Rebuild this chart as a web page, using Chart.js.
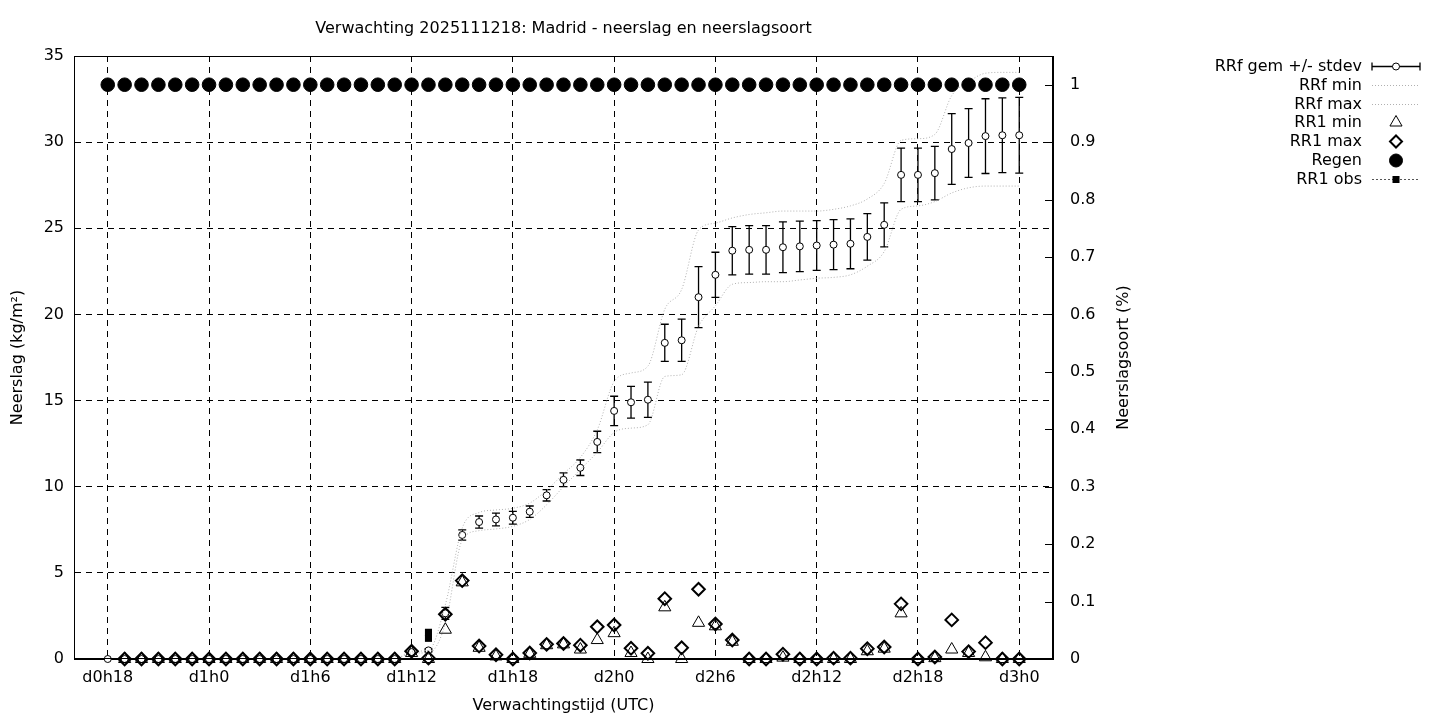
<!DOCTYPE html>
<html lang="nl">
<head>
<meta charset="utf-8">
<title>Verwachting 2025111218: Madrid - neerslag en neerslagsoort</title>
<script src="https://cdn.jsdelivr.net/npm/chart.js@4.4.1/dist/chart.umd.min.js"></script>
<style>
  html, body { margin: 0; padding: 0; background: #fff; }
  #wrap { width: 1440px; height: 720px; }
</style>
</head>
<body>
<div id="wrap"><canvas id="grafiek" width="1440" height="720"></canvas></div>
<script>
// Verwachtingsuren (d0h18 .. d3h0)
const uren = [18, 19, 20, 21, 22, 23, 24, 25, 26, 27, 28, 29, 30, 31, 32, 33, 34, 35,
  36, 37, 38, 39, 40, 41, 42, 43, 44, 45, 46, 47, 48, 49, 50, 51, 52, 53, 54,
  55, 56, 57, 58, 59, 60, 61, 62, 63, 64, 65, 66, 67, 68, 69, 70, 71, 72];

const xTickUren = [18, 24, 30, 36, 42, 48, 54, 60, 66, 72];
const xTickLabels = ['d0h18', 'd1h0', 'd1h6', 'd1h12', 'd1h18', 'd2h0', 'd2h6', 'd2h12', 'd2h18', 'd3h0'];
const rechtsTicks = [0, 0.1, 0.2, 0.3, 0.4, 0.5, 0.6, 0.7, 0.8, 0.9, 1];
const rechtsLabels = ['0', '0.1', '0.2', '0.3', '0.4', '0.5', '0.6', '0.7', '0.8', '0.9', '1'];

// Cumulatieve neerslag (kg/m2)
const rrfGem = [0, 0, 0, 0, 0, 0, 0, 0, 0, 0, 0, 0, 0, 0, 0, 0, 0, 0,
  0.4, 0.5, 2.65, 7.2, 7.95, 8.1, 8.2, 8.55, 9.5, 10.4, 11.1, 12.6, 14.4, 14.9, 15.05, 18.35, 18.5, 21.0, 22.3,
  23.7, 23.75, 23.75, 23.9, 23.95, 24.0, 24.05, 24.1, 24.5, 25.2, 28.1, 28.1, 28.2, 29.6, 29.95, 30.35, 30.4, 30.4];
const rrfStdev = [0, 0, 0, 0, 0, 0, 0, 0, 0, 0, 0, 0, 0, 0, 0, 0, 0, 0,
  0.05, 0.08, 0.35, 0.3, 0.35, 0.37, 0.37, 0.33, 0.33, 0.4, 0.45, 0.62, 0.85, 0.92, 1.02, 1.08, 1.23, 1.77, 1.31,
  1.4, 1.41, 1.41, 1.47, 1.47, 1.44, 1.45, 1.45, 1.35, 1.28, 1.55, 1.55, 1.55, 2.05, 2.0, 2.17, 2.17, 2.2];
const rrfMin = [0, 0, 0, 0, 0, 0, 0, 0, 0, 0, 0, 0, 0, 0, 0, 0, 0, 0,
  0.35, 0.35, 2.05, 6.9, 7.45, 7.55, 7.7, 8.1, 8.95, 10.0, 11.0, 12.0, 13.15, 13.4, 13.6, 16.4, 16.5, 19.3, 20.5,
  21.75, 21.85, 21.9, 21.9, 22.0, 22.1, 22.15, 22.3, 22.8, 23.65, 26.1, 26.3, 26.55, 27.05, 27.35, 27.45, 27.45, 27.45];
const rrfMax = [0, 0, 0, 0, 0, 0, 0, 0, 0, 0, 0, 0, 0, 0, 0, 0, 0, 0,
  0.45, 0.5, 3.15, 7.6, 8.5, 8.65, 8.75, 9.05, 9.8, 10.75, 11.7, 13.3, 16.1, 16.6, 17.0, 20.3, 21.45, 24.9, 25.3,
  25.6, 25.8, 25.9, 26.0, 26.0, 26.0, 26.1, 26.3, 26.7, 27.6, 30.1, 30.2, 30.45, 32.7, 33.5, 34.0, 34.05, 34.05];

// Uurlijkse neerslag (kg/m2)
const rr1Min = [null, 0, 0, 0, 0, 0, 0, 0, 0, 0, 0, 0, 0, 0, 0, 0, 0, 0,
  0.35, 0, 1.7, 4.45, 0.65, 0.15, 0, 0.3, 0.8, 0.85, 0.55, 1.1, 1.5, 0.35, 0, 3.0, 0, 2.1, 1.9,
  1.0, 0, 0, 0.08, 0, 0, 0, 0, 0.45, 0.6, 2.65, 0, 0.05, 0.55, 0.35, 0.1, 0, 0];
const rr1Max = [null, 0, 0, 0, 0, 0, 0, 0, 0, 0, 0, 0, 0, 0, 0, 0, 0, 0,
  0.45, 0.05, 2.6, 4.55, 0.75, 0.25, 0, 0.35, 0.85, 0.9, 0.8, 1.87, 1.97, 0.62, 0.33, 3.5, 0.65, 4.05, 2.03,
  1.1, 0, 0, 0.28, 0, 0, 0.05, 0.05, 0.6, 0.7, 3.2, 0, 0.12, 2.27, 0.43, 0.95, 0, 0];

// Neerslagsoort: fractie regen
const regen = [1, 1, 1, 1, 1, 1, 1, 1, 1, 1, 1, 1, 1, 1, 1, 1, 1, 1,
  1, 1, 1, 1, 1, 1, 1, 1, 1, 1, 1, 1, 1, 1, 1, 1, 1, 1, 1,
  1, 1, 1, 1, 1, 1, 1, 1, 1, 1, 1, 1, 1, 1, 1, 1, 1, 1];

// Waarnemingen
const obsUren = [37, 37];
const rr1Obs = [1.2, 1.55];

const FONT = "'DejaVu Sans', 'Liberation Sans', sans-serif";
const FS = 16;
Chart.defaults.font.family = FONT;
Chart.defaults.font.size = FS;
Chart.defaults.color = '#000';

const punten = (ys) => uren.map((u, i) => ({ x: u, y: ys[i] }));
const GRIJS = '#b0b0b0';

// Foutbalken onder de markers
const foutbalken = {
  id: 'foutbalken',
  beforeDatasetsDraw(chart) {
    const { ctx, scales: { x, y } } = chart;
    ctx.save();
    ctx.strokeStyle = '#000';
    ctx.lineWidth = 1.3;
    uren.forEach((u, i) => {
      const s = rrfStdev[i];
      if (!s) return;
      const px = x.getPixelForValue(u);
      const top = y.getPixelForValue(rrfGem[i] + s);
      const bot = y.getPixelForValue(rrfGem[i] - s);
      ctx.beginPath();
      ctx.moveTo(px, top); ctx.lineTo(px, bot);
      ctx.moveTo(px - 4, top); ctx.lineTo(px + 4, top);
      ctx.moveTo(px - 4, bot); ctx.lineTo(px + 4, bot);
      ctx.stroke();
    });
    ctx.restore();
  }
};

// Kader, rechtse tics, y2-label en legenda
const extra = {
  id: 'extra',
  afterDraw(chart) {
    const { ctx, chartArea: a, scales: { y1 } } = chart;
    const dp = Chart.helpers.drawPoint;
    ctx.save();
    ctx.strokeStyle = '#000';
    ctx.lineWidth = 1;
    ctx.setLineDash([]);
    ctx.strokeRect(a.left + 0.5, a.top + 0.5, a.right - a.left - 1, a.bottom - a.top - 1);
    ctx.beginPath();
    rechtsTicks.forEach(t => {
      const py = Math.round(y1.getPixelForValue(t)) + 0.5;
      ctx.moveTo(a.right - 8, py); ctx.lineTo(a.right, py);
    });
    ctx.stroke();

    ctx.fillStyle = '#000';
    ctx.font = FS + 'px ' + FONT;
    ctx.save();
    ctx.translate(1124, (a.top + a.bottom) / 2);
    ctx.rotate(-Math.PI / 2);
    ctx.textAlign = 'center';
    ctx.textBaseline = 'middle';
    ctx.fillText('Neerslagsoort (%)', 0, 0);
    ctx.restore();

    // legenda
    const rijen = ['RRf gem +/- stdev', 'RRf min', 'RRf max', 'RR1 min', 'RR1 max', 'Regen', 'RR1 obs'];
    const tx = 1362, x0 = 1372, x1 = 1420, xm = 1396;
    ctx.textAlign = 'right';
    ctx.textBaseline = 'middle';
    rijen.forEach((r, i) => {
      const ly = 66 + i * 18.75;
      ctx.fillStyle = '#000';
      ctx.fillText(r, tx, ly + 1);
      const yy = Math.round(ly) + 0.5;
      ctx.setLineDash([]);
      ctx.strokeStyle = '#000';
      if (i === 0) {
        ctx.lineWidth = 1.3;
        ctx.beginPath();
        ctx.moveTo(x0, yy); ctx.lineTo(x1, yy);
        ctx.moveTo(x0, yy - 4); ctx.lineTo(x0, yy + 4);
        ctx.moveTo(x1, yy - 4); ctx.lineTo(x1, yy + 4);
        ctx.stroke();
        ctx.fillStyle = '#fff'; ctx.lineWidth = 1;
        dp(ctx, { pointStyle: 'circle', radius: 3.5, borderWidth: 1, rotation: 0 }, xm, yy);
      } else if (i === 1 || i === 2) {
        ctx.strokeStyle = GRIJS; ctx.lineWidth = 1;
        ctx.setLineDash([1, 2]);
        ctx.beginPath(); ctx.moveTo(x0, yy); ctx.lineTo(x1, yy); ctx.stroke();
      } else if (i === 3) {
        ctx.fillStyle = 'rgba(0,0,0,0)'; ctx.lineWidth = 1;
        dp(ctx, { pointStyle: 'triangle', radius: 7, borderWidth: 1, rotation: 0 }, xm, yy);
      } else if (i === 4) {
        ctx.fillStyle = 'rgba(0,0,0,0)'; ctx.lineWidth = 2;
        dp(ctx, { pointStyle: 'rectRot', radius: 6, borderWidth: 2, rotation: 0 }, xm, yy);
      } else if (i === 5) {
        ctx.fillStyle = '#000'; ctx.lineWidth = 1;
        dp(ctx, { pointStyle: 'circle', radius: 6.5, borderWidth: 1, rotation: 0 }, xm, yy);
      } else {
        ctx.strokeStyle = '#555'; ctx.lineWidth = 1;
        ctx.setLineDash([2, 2]);
        ctx.beginPath(); ctx.moveTo(x0, yy); ctx.lineTo(x1, yy); ctx.stroke();
        ctx.setLineDash([]);
        ctx.fillStyle = '#000';
        ctx.fillRect(xm - 3.5, yy - 3.5, 7, 7);
      }
    });
    ctx.restore();
  }
};

new Chart(document.getElementById('grafiek'), {
  type: 'line',
  data: {
    datasets: [
      { label: 'RR1 obs', data: obsUren.map((u, i) => ({ x: u, y: rr1Obs[i] })), showLine: false, clip: false,
        pointStyle: 'rect', pointRadius: 5, backgroundColor: '#000', borderColor: '#000', borderWidth: 0 },
      { label: 'Regen', data: punten(regen), yAxisID: 'y1', showLine: false, clip: false,
        pointStyle: 'circle', pointRadius: 6.8, backgroundColor: '#000', borderColor: '#000', borderWidth: 1 },
      { label: 'RR1 max', data: punten(rr1Max), showLine: false, clip: false,
        pointStyle: 'rectRot', pointRadius: 6.3, backgroundColor: 'rgba(0,0,0,0)', borderColor: '#000', borderWidth: 2 },
      { label: 'RR1 min', data: punten(rr1Min), showLine: false, clip: false,
        pointStyle: 'triangle', pointRadius: 7, backgroundColor: 'rgba(0,0,0,0)', borderColor: '#000', borderWidth: 1 },
      { label: 'RRf max', data: punten(rrfMax), pointRadius: 0, borderColor: GRIJS, borderWidth: 1,
        borderDash: [1, 2], cubicInterpolationMode: 'monotone', fill: false },
      { label: 'RRf min', data: punten(rrfMin), pointRadius: 0, borderColor: GRIJS, borderWidth: 1,
        borderDash: [1, 2], cubicInterpolationMode: 'monotone', fill: false },
      { label: 'RRf gem +/- stdev', data: punten(rrfGem), showLine: false, clip: false,
        pointStyle: 'circle', pointRadius: 3.5, backgroundColor: '#fff', borderColor: '#000', borderWidth: 1 }
    ]
  },
  options: {
    responsive: false,
    animation: false,
    events: [],
    layout: { padding: { left: 0, right: 301, top: 0, bottom: 0 } },
    plugins: {
      legend: { display: false },
      tooltip: { enabled: false },
      title: {
        display: true, fullSize: false,
        text: 'Verwachting 2025111218: Madrid - neerslag en neerslagsoort',
        color: '#000', font: { size: FS, weight: 'normal' },
        padding: { top: 19.4, bottom: 17.4 }
      }
    },
    scales: {
      x: {
        type: 'linear', min: 16.0, max: 74.0,
        afterBuildTicks: s => { s.ticks = xTickUren.map(v => ({ value: v })); },
        afterFit: s => { s.height = 61; },
        ticks: { callback: (v, i) => xTickLabels[i], padding: 9, maxRotation: 0, autoSkip: false, color: '#000' },
        grid: { color: '#000', lineWidth: 1, drawTicks: false },
        border: { color: '#000', dash: [6, 5] },
        title: { display: true, text: 'Verwachtingstijd (UTC)', color: '#000', padding: { top: 0, bottom: 4.4 } }
      },
      y: {
        position: 'left', min: 0, max: 35,
        afterFit: s => { s.width = 74; },
        ticks: { stepSize: 5, padding: 10, color: '#000' },
        grid: { color: '#000', lineWidth: 1, drawTicks: false },
        border: { color: '#000', dash: [6, 5] },
        title: { display: true, text: 'Neerslag (kg/m²)', color: '#000', padding: { top: 8.4, bottom: 0 } }
      },
      y1: {
        position: 'right', min: 0, max: 1.05,
        afterBuildTicks: s => { s.ticks = rechtsTicks.map(v => ({ value: v })); },
        afterFit: s => { s.width = 86; },
        ticks: { callback: (v, i) => rechtsLabels[i], padding: 17, color: '#000' },
        grid: { drawOnChartArea: false, drawTicks: false },
        border: { color: '#000' }
      }
    }
  },
  plugins: [foutbalken, extra]
});
</script>
</body>
</html>
